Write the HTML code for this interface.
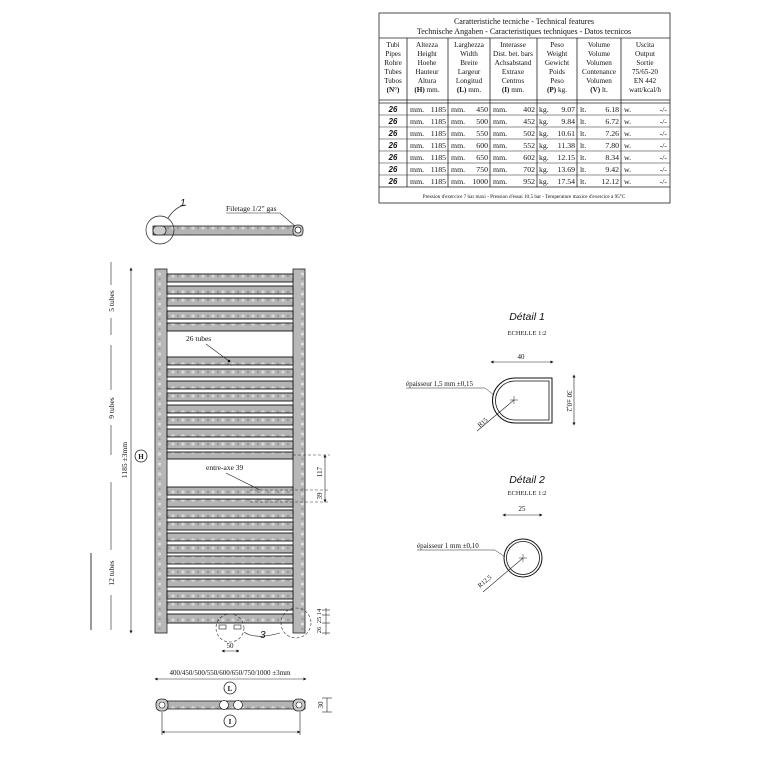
<!DOCTYPE html>
<html><head><meta charset="utf-8"><style>
html,body{margin:0;padding:0;background:#fff}
svg{display:block}
text{font-family:"Liberation Serif",serif;fill:#111}
.s{font-family:"Liberation Sans",sans-serif}
</style></head><body>
<svg width="761" height="761" viewBox="0 0 761 761" xmlns="http://www.w3.org/2000/svg">
<defs>
<pattern id="dots" width="10" height="8" patternUnits="userSpaceOnUse">
<rect width="10" height="8" fill="#b4b4b4"/><circle cx="3" cy="4" r="1.6" fill="#d8d8d8"/><circle cx="8" cy="4" r="1.2" fill="#9a9a9a"/>
</pattern>
<pattern id="vdots" width="11" height="10" patternUnits="userSpaceOnUse">
<rect width="11" height="10" fill="#b8b8b8"/><circle cx="5.5" cy="4" r="1.6" fill="#dadada"/><circle cx="5.5" cy="9" r="1.2" fill="#9c9c9c"/>
</pattern>
<marker id="a" viewBox="0 0 6 6" refX="5" refY="3" markerWidth="5" markerHeight="5" orient="auto-start-reverse"><path d="M0,0L6,3L0,6z" fill="#111"/></marker>
</defs>

<!-- TABLE -->
<g stroke="#222" fill="none" stroke-width="0.8">
<rect x="379" y="13" width="291" height="190"/>
<line x1="379" y1="38" x2="670" y2="38"/>
<line x1="379" y1="100" x2="670" y2="100"/>
<line x1="379" y1="103" x2="670" y2="103"/>
<line x1="379" y1="187" x2="670" y2="187"/>
<line x1="407" y1="38" x2="407" y2="187"/>
<line x1="448" y1="38" x2="448" y2="187"/>
<line x1="490" y1="38" x2="490" y2="187"/>
<line x1="537" y1="38" x2="537" y2="187"/>
<line x1="577" y1="38" x2="577" y2="187"/>
<line x1="621" y1="38" x2="621" y2="187"/>
<g stroke-width="0.5">
<line x1="379" y1="115" x2="670" y2="115"/><line x1="379" y1="127" x2="670" y2="127"/>
<line x1="379" y1="139" x2="670" y2="139"/><line x1="379" y1="151" x2="670" y2="151"/>
<line x1="379" y1="163" x2="670" y2="163"/><line x1="379" y1="175" x2="670" y2="175"/>
</g>
</g>
<g font-size="8" text-anchor="middle">
<text x="524" y="24">Caratteristiche tecniche - Technical features</text>
<text x="524" y="34">Technische Angaben - Caracteristiques techniques - Datos tecnicos</text>
</g>
<g font-size="7.2" text-anchor="middle">
<text x="393" y="47">Tubi</text><text x="393" y="56">Pipes</text><text x="393" y="65">Rohre</text><text x="393" y="74">Tubes</text><text x="393" y="83">Tubos</text><text x="393" y="92" font-weight="bold">(N°)</text>
<text x="427" y="47">Altezza</text><text x="427" y="56">Height</text><text x="427" y="65">Hoehe</text><text x="427" y="74">Hauteur</text><text x="427" y="83">Altura</text><text x="427" y="92"><tspan font-weight="bold">(H)</tspan> mm.</text>
<text x="469" y="47">Larghezza</text><text x="469" y="56">Width</text><text x="469" y="65">Breite</text><text x="469" y="74">Largeur</text><text x="469" y="83">Longitud</text><text x="469" y="92"><tspan font-weight="bold">(L)</tspan> mm.</text>
<text x="513" y="47">Interasse</text><text x="513" y="56">Dist. bet. bars</text><text x="513" y="65">Achsabstand</text><text x="513" y="74">Extraxe</text><text x="513" y="83">Centros</text><text x="513" y="92"><tspan font-weight="bold">(I)</tspan> mm.</text>
<text x="557" y="47">Peso</text><text x="557" y="56">Weight</text><text x="557" y="65">Gewicht</text><text x="557" y="74">Poids</text><text x="557" y="83">Peso</text><text x="557" y="92"><tspan font-weight="bold">(P)</tspan> kg.</text>
<text x="599" y="47">Volume</text><text x="599" y="56">Volume</text><text x="599" y="65">Volumen</text><text x="599" y="74">Contenance</text><text x="599" y="83">Volumen</text><text x="599" y="92"><tspan font-weight="bold">(V)</tspan> lt.</text>
<text x="645" y="47">Uscita</text><text x="645" y="56">Output</text><text x="645" y="65">Sortie</text><text x="645" y="74">75/65-20</text><text x="645" y="83">EN 442</text><text x="645" y="92">watt/kcal/h</text>
</g>
<g font-size="7.8">
<g class="s" font-style="italic" font-weight="bold" text-anchor="middle">
<text class="s" x="393" y="112">26</text><text class="s" x="393" y="124">26</text><text class="s" x="393" y="136">26</text><text class="s" x="393" y="148">26</text><text class="s" x="393" y="160">26</text><text class="s" x="393" y="172">26</text><text class="s" x="393" y="184">26</text>
</g>
<g><text x="410" y="112">mm.</text><text x="410" y="124">mm.</text><text x="410" y="136">mm.</text><text x="410" y="148">mm.</text><text x="410" y="160">mm.</text><text x="410" y="172">mm.</text><text x="410" y="184">mm.</text></g>
<g text-anchor="end"><text x="446" y="112">1185</text><text x="446" y="124">1185</text><text x="446" y="136">1185</text><text x="446" y="148">1185</text><text x="446" y="160">1185</text><text x="446" y="172">1185</text><text x="446" y="184">1185</text></g>
<g><text x="451" y="112">mm.</text><text x="451" y="124">mm.</text><text x="451" y="136">mm.</text><text x="451" y="148">mm.</text><text x="451" y="160">mm.</text><text x="451" y="172">mm.</text><text x="451" y="184">mm.</text></g>
<g text-anchor="end"><text x="488" y="112">450</text><text x="488" y="124">500</text><text x="488" y="136">550</text><text x="488" y="148">600</text><text x="488" y="160">650</text><text x="488" y="172">750</text><text x="488" y="184">1000</text></g>
<g><text x="493" y="112">mm.</text><text x="493" y="124">mm.</text><text x="493" y="136">mm.</text><text x="493" y="148">mm.</text><text x="493" y="160">mm.</text><text x="493" y="172">mm.</text><text x="493" y="184">mm.</text></g>
<g text-anchor="end"><text x="535" y="112">402</text><text x="535" y="124">452</text><text x="535" y="136">502</text><text x="535" y="148">552</text><text x="535" y="160">602</text><text x="535" y="172">702</text><text x="535" y="184">952</text></g>
<g><text x="539" y="112">kg.</text><text x="539" y="124">kg.</text><text x="539" y="136">kg.</text><text x="539" y="148">kg.</text><text x="539" y="160">kg.</text><text x="539" y="172">kg.</text><text x="539" y="184">kg.</text></g>
<g text-anchor="end"><text x="575" y="112">9.07</text><text x="575" y="124">9.84</text><text x="575" y="136">10.61</text><text x="575" y="148">11.38</text><text x="575" y="160">12.15</text><text x="575" y="172">13.69</text><text x="575" y="184">17.54</text></g>
<g><text x="580" y="112">lt.</text><text x="580" y="124">lt.</text><text x="580" y="136">lt.</text><text x="580" y="148">lt.</text><text x="580" y="160">lt.</text><text x="580" y="172">lt.</text><text x="580" y="184">lt.</text></g>
<g text-anchor="end"><text x="619" y="112">6.18</text><text x="619" y="124">6.72</text><text x="619" y="136">7.26</text><text x="619" y="148">7.80</text><text x="619" y="160">8.34</text><text x="619" y="172">9.42</text><text x="619" y="184">12.12</text></g>
<g><text x="624" y="112">w.</text><text x="624" y="124">w.</text><text x="624" y="136">w.</text><text x="624" y="148">w.</text><text x="624" y="160">w.</text><text x="624" y="172">w.</text><text x="624" y="184">w.</text></g>
<g text-anchor="end"><text x="667" y="112">-/-</text><text x="667" y="124">-/-</text><text x="667" y="136">-/-</text><text x="667" y="148">-/-</text><text x="667" y="160">-/-</text><text x="667" y="172">-/-</text><text x="667" y="184">-/-</text></g>
</g>
<text x="524" y="198" font-size="5.2" text-anchor="middle">Pression d'exercice 7 bar maxi - Pression d'essai 10.5 bar - Temperature maxice d'exercice a 95°C</text>

<!-- TOP VIEW -->
<rect x="153" y="226" width="149" height="9" fill="url(#dots)" stroke="#222" stroke-width="0.8"/>
<rect x="153" y="226" width="13" height="9" rx="4" fill="#ccc" stroke="#222" stroke-width="0.8"/>
<rect x="293" y="225" width="10" height="11" rx="4" fill="#ccc" stroke="#222" stroke-width="0.8"/>
<circle cx="298" cy="230" r="3" fill="#fff" stroke="#222" stroke-width="0.8"/>
<circle cx="160" cy="230" r="14" fill="none" stroke="#222" stroke-width="0.7"/>
<path d="M168,218 Q176,206 186,205" fill="none" stroke="#222" stroke-width="0.7"/>
<text x="180" y="206" font-size="10" font-style="italic" class="s">1</text>
<text x="226" y="211" font-size="7.5">Filetage 1/2" gas</text>
<path d="M226,213 L280,213 L295,226" fill="none" stroke="#222" stroke-width="0.6"/>

<!-- RADIATOR -->
<rect x="155" y="269" width="12" height="364" fill="url(#vdots)" stroke="#222" stroke-width="0.8"/>
<rect x="293" y="269" width="12" height="364" fill="url(#vdots)" stroke="#222" stroke-width="0.8"/>
<g fill="url(#dots)" stroke="#111" stroke-width="0.9">
<rect x="167" y="274" width="126" height="8"/><rect x="167" y="286" width="126" height="8"/><rect x="167" y="298" width="126" height="8"/><rect x="167" y="311" width="126" height="8"/><rect x="167" y="323" width="126" height="8"/>
<rect x="167" y="357" width="126" height="8"/><rect x="167" y="369" width="126" height="8"/><rect x="167" y="381" width="126" height="8"/><rect x="167" y="393" width="126" height="8"/><rect x="167" y="405" width="126" height="8"/><rect x="167" y="417" width="126" height="8"/><rect x="167" y="429" width="126" height="8"/><rect x="167" y="441" width="126" height="8"/><rect x="167" y="452" width="126" height="7"/>
<rect x="167" y="487" width="126" height="8"/><rect x="167" y="499" width="126" height="8"/><rect x="167" y="510" width="126" height="8"/><rect x="167" y="522" width="126" height="8"/><rect x="167" y="533" width="126" height="8"/><rect x="167" y="545" width="126" height="8"/><rect x="167" y="556" width="126" height="8"/><rect x="167" y="568" width="126" height="8"/><rect x="167" y="579" width="126" height="8"/><rect x="167" y="591" width="126" height="8"/><rect x="167" y="602" width="126" height="8"/><rect x="167" y="614" width="126" height="9"/>
</g>
<text x="186" y="341" font-size="7.5">26 tubes</text>
<line x1="206" y1="344" x2="229" y2="361" stroke="#222" stroke-width="0.6"/><circle cx="229" cy="361" r="1.3" fill="#111"/>
<text x="206" y="470" font-size="7.5">entre-axe 39</text>
<line x1="226" y1="473" x2="260" y2="490" stroke="#222" stroke-width="0.6"/>
<rect x="219" y="625" width="7" height="4" fill="#fff" stroke="#222" stroke-width="0.6"/>
<rect x="234" y="625" width="7" height="4" fill="#fff" stroke="#222" stroke-width="0.6"/>
<circle cx="230" cy="628" r="14" fill="none" stroke="#333" stroke-width="0.6" stroke-dasharray="3,2"/>
<circle cx="296" cy="623" r="15" fill="none" stroke="#333" stroke-width="0.6" stroke-dasharray="3,2"/>
<path d="M244,632 Q255,640 280,633" fill="none" stroke="#222" stroke-width="0.6"/>
<text x="260" y="638" font-size="10" font-style="italic" class="s">3</text>
<line x1="222" y1="651" x2="239" y2="651" stroke="#222" stroke-width="0.6" marker-start="url(#a)" marker-end="url(#a)"/>
<text x="230" y="648" font-size="7" text-anchor="middle">50</text>

<!-- Left dims -->
<line x1="131" y1="268" x2="131" y2="633" stroke="#222" stroke-width="0.6" marker-start="url(#a)" marker-end="url(#a)"/>
<g stroke="#222" stroke-width="0.6">
<line x1="111" y1="262" x2="111" y2="285"/><line x1="111" y1="318" x2="111" y2="335"/>
<line x1="111" y1="345" x2="111" y2="390"/><line x1="111" y1="425" x2="111" y2="455"/>
<line x1="111" y1="482" x2="111" y2="550"/><line x1="111" y1="595" x2="111" y2="630"/>
<line x1="91" y1="553" x2="91" y2="630" stroke-width="0.9"/>
</g>
<text transform="translate(114,301) rotate(-90)" font-size="7.5" text-anchor="middle">5 tubes</text>
<text transform="translate(114,408) rotate(-90)" font-size="7.5" text-anchor="middle">9 tubes</text>
<text transform="translate(114,573) rotate(-90)" font-size="7.5" text-anchor="middle">12 tubes</text>
<text transform="translate(127,460) rotate(-90)" font-size="7.5" text-anchor="middle">1185 ±3mm</text>
<circle cx="141" cy="456" r="6" fill="#fff" stroke="#222" stroke-width="0.8"/>
<text x="141" y="459" font-size="7" text-anchor="middle" font-weight="bold">H</text>

<!-- Right dims -->
<g stroke="#333" stroke-width="0.6" stroke-dasharray="3,2">
<line x1="293" y1="455" x2="330" y2="455"/><line x1="250" y1="490" x2="330" y2="490"/><line x1="250" y1="502" x2="330" y2="502"/>
</g>
<g stroke="#222" stroke-width="0.6">
<line x1="325" y1="455" x2="325" y2="502" marker-start="url(#a)" marker-end="url(#a)"/>
<line x1="326" y1="608" x2="326" y2="635"/>
<line x1="322" y1="610" x2="330" y2="610"/><line x1="322" y1="615" x2="330" y2="615"/><line x1="322" y1="623" x2="330" y2="623"/><line x1="322" y1="633" x2="330" y2="633"/>
</g>
<text transform="translate(322,472) rotate(-90)" font-size="7" text-anchor="middle">117</text>
<text transform="translate(322,496) rotate(-90)" font-size="7" text-anchor="middle">39</text>
<text transform="translate(321,612) rotate(-90)" font-size="6.5" text-anchor="middle">14</text>
<text transform="translate(321,620) rotate(-90)" font-size="6.5" text-anchor="middle">25</text>
<text transform="translate(321,630) rotate(-90)" font-size="6.5" text-anchor="middle">26</text>

<!-- Bottom view -->
<text x="230" y="675" font-size="7" text-anchor="middle">400/450/500/550/600/650/750/1000 ±3mm</text>
<line x1="155" y1="679" x2="306" y2="679" stroke="#222" stroke-width="0.6" marker-start="url(#a)" marker-end="url(#a)"/>
<circle cx="230" cy="688" r="6" fill="#fff" stroke="#222" stroke-width="0.8"/>
<text x="230" y="691" font-size="7" text-anchor="middle" font-weight="bold">L</text>
<rect x="157" y="701" width="148" height="8" fill="url(#dots)" stroke="#222" stroke-width="0.8"/>
<rect x="156" y="699" width="12" height="12" rx="5" fill="#ccc" stroke="#222" stroke-width="0.8"/>
<rect x="293" y="699" width="12" height="12" rx="5" fill="#ccc" stroke="#222" stroke-width="0.8"/>
<circle cx="162" cy="705" r="3" fill="#fff" stroke="#222" stroke-width="0.6"/><circle cx="299" cy="705" r="3" fill="#fff" stroke="#222" stroke-width="0.6"/>
<circle cx="224" cy="705" r="4.5" fill="#fff" stroke="#222" stroke-width="0.7"/><circle cx="238" cy="705" r="4.5" fill="#fff" stroke="#222" stroke-width="0.7"/>
<circle cx="230" cy="721" r="6" fill="#fff" stroke="#222" stroke-width="0.8"/>
<text x="230" y="724" font-size="7" text-anchor="middle" font-weight="bold">I</text>
<line x1="162" y1="732" x2="300" y2="732" stroke="#222" stroke-width="0.6" marker-start="url(#a)" marker-end="url(#a)"/>
<g stroke="#222" stroke-width="0.6"><line x1="162" y1="712" x2="162" y2="735"/><line x1="300" y1="712" x2="300" y2="735"/>
<line x1="327" y1="698" x2="327" y2="712"/><line x1="322" y1="698" x2="332" y2="698"/><line x1="322" y1="712" x2="332" y2="712"/></g>
<text transform="translate(323,705) rotate(-90)" font-size="7" text-anchor="middle">30</text>

<!-- Detail 1 -->
<text x="527" y="320" font-size="10.5" font-style="italic" class="s" text-anchor="middle">Détail 1</text>
<text x="527" y="335" font-size="6.5" text-anchor="middle">ECHELLE 1:2</text>
<text x="521" y="359" font-size="7" text-anchor="middle">40</text>
<line x1="491" y1="362" x2="553" y2="362" stroke="#222" stroke-width="0.6" marker-start="url(#a)" marker-end="url(#a)"/>
<path d="M515,378 L552,378 L552,423 L515,423 A22.5,22.5 0 0 1 515,378 Z" fill="none" stroke="#111" stroke-width="1"/>
<path d="M515,381 L549,381 L549,420 L515,420 A19.5,19.5 0 0 1 515,381 Z" fill="none" stroke="#111" stroke-width="0.8"/>
<g stroke="#222" stroke-width="0.5"><line x1="510" y1="400" x2="518" y2="400"/><line x1="514" y1="396" x2="514" y2="404"/></g>
<line x1="477" y1="431" x2="514" y2="400" stroke="#222" stroke-width="0.6"/>
<text transform="translate(484,424) rotate(-40)" font-size="6.5" text-anchor="middle">R15</text>
<text x="406" y="386" font-size="7">épaisseur 1,5 mm ±0,15</text>
<path d="M406,388 L485,388 L494,395" fill="none" stroke="#222" stroke-width="0.5"/>
<line x1="574" y1="375" x2="574" y2="425" stroke="#222" stroke-width="0.6" marker-start="url(#a)" marker-end="url(#a)"/>
<text transform="translate(567,401) rotate(90)" font-size="7" text-anchor="middle">30 ±0,2</text>

<!-- Detail 2 -->
<text x="527" y="483" font-size="10.5" font-style="italic" class="s" text-anchor="middle">Détail 2</text>
<text x="527" y="495" font-size="6.5" text-anchor="middle">ECHELLE 1:2</text>
<text x="522" y="511" font-size="7" text-anchor="middle">25</text>
<line x1="503" y1="515" x2="542" y2="515" stroke="#222" stroke-width="0.6" marker-start="url(#a)" marker-end="url(#a)"/>
<circle cx="523" cy="558" r="19" fill="none" stroke="#111" stroke-width="1"/>
<circle cx="523" cy="558" r="16.5" fill="none" stroke="#111" stroke-width="0.8"/>
<g stroke="#222" stroke-width="0.5"><line x1="519" y1="558" x2="527" y2="558"/><line x1="523" y1="554" x2="523" y2="562"/></g>
<line x1="483" y1="592" x2="523" y2="558" stroke="#222" stroke-width="0.6"/>
<text transform="translate(486,583) rotate(-40)" font-size="6.5" text-anchor="middle">R12,5</text>
<text x="417" y="548" font-size="7">épaisseur 1 mm ±0,10</text>
<path d="M417,550 L495,550 L505,557" fill="none" stroke="#222" stroke-width="0.5"/>
</svg>
</body></html>
